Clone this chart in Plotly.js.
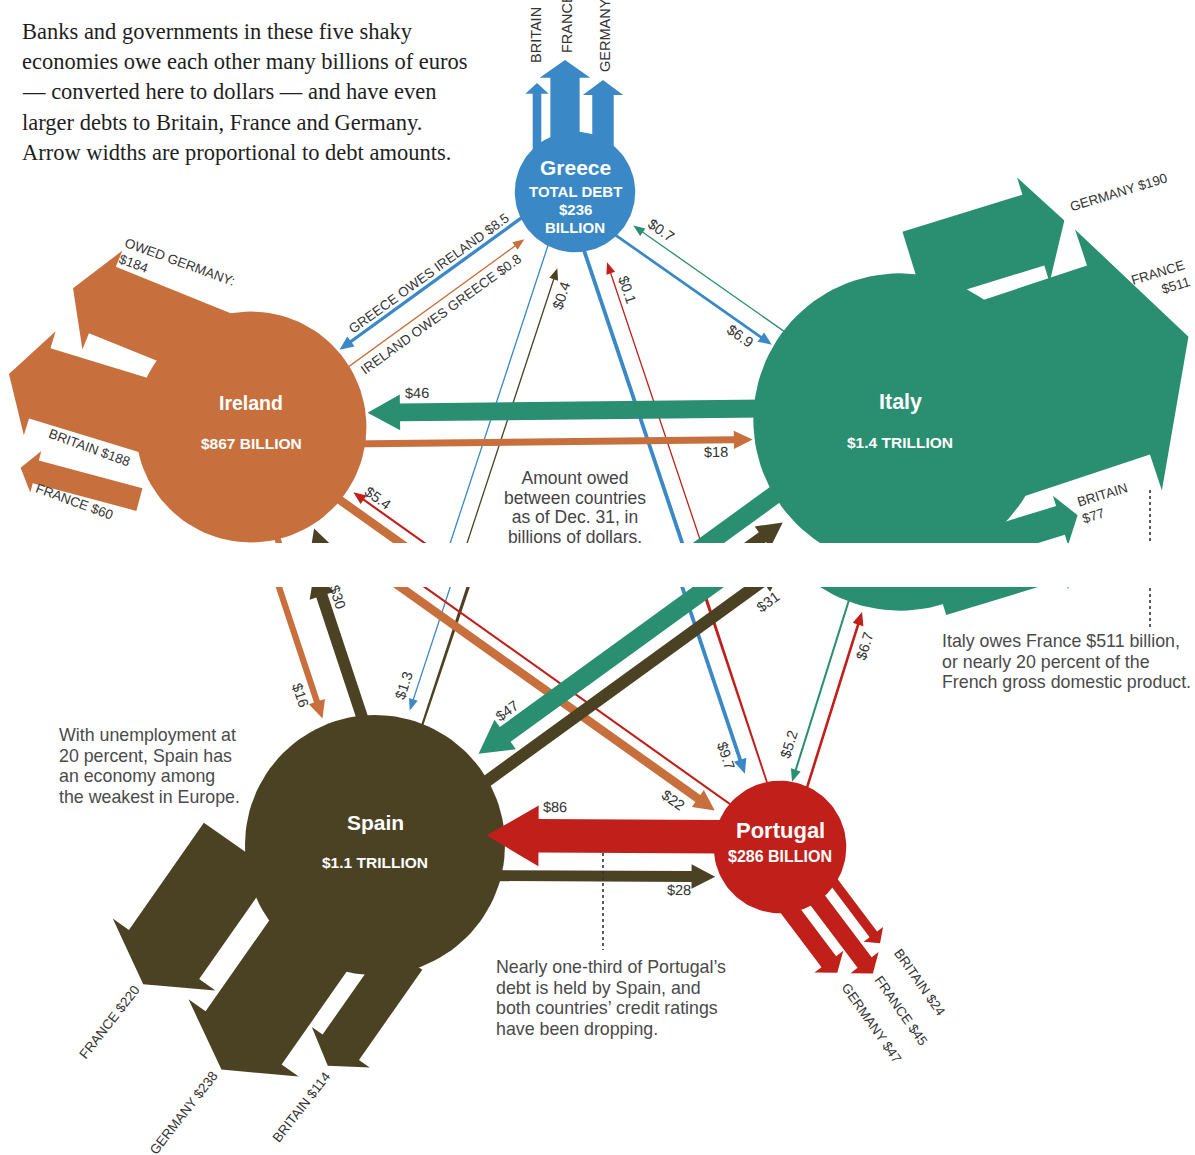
<!DOCTYPE html>
<html><head><meta charset="utf-8">
<script src="https://cdn.plot.ly/plotly-3.0.1.min.js"></script>
<style>html,body{margin:0;padding:0;background:#fff;}#chart{width:1195px;height:1155px;}</style>
</head><body><div id="chart"></div>
<script>
// ================= DATA (billions of dollars) =================
const countries = ["Greece", "Ireland", "Italy", "Spain", "Portugal"];
const totalDebt = [236, 867, 1400, 1100, 286];

// debts between the five countries: debtor owes creditor
const flowDebtor   = ["Greece","Ireland","Greece","Italy","Greece","Spain","Greece","Portugal","Italy","Ireland","Ireland","Spain","Ireland","Portugal","Italy","Spain","Italy","Portugal","Portugal","Spain"];
const flowCreditor = ["Ireland","Greece","Italy","Greece","Spain","Greece","Portugal","Greece","Ireland","Italy","Spain","Ireland","Portugal","Ireland","Spain","Italy","Portugal","Italy","Spain","Portugal"];
const flowAmount   = [8.5, 0.8, 6.9, 0.7, 1.3, 0.4, 9.7, 0.1, 46, 18, 16, 30, 22, 5.4, 47, 31, 5.2, 6.7, 86, 28];

// debts to Britain, France and Germany (Greece's values)
const extDebtor   = ["Greece","Greece","Greece","Ireland","Ireland","Ireland","Italy","Italy","Italy","Spain","Spain","Spain","Portugal","Portugal","Portugal"];
const extCreditor = ["Britain","France","Germany","Germany","Britain","France","Germany","France","Britain","France","Germany","Britain","Germany","France","Britain"];
const extAmount   = [22, 75, 55, 184, 188, 60, 190, 511, 77, 220, 238, 114, 47, 45, 24];

// ================= LAYOUT / STYLE =================
const W = 1195, H = 1155, CUT = 543, SHIFT = 44;
const SCALE = 0.39, RADIUS_K = 3.92;
const nodeCenter = {Greece:[575,192], Ireland:[251,427], Italy:[900,420], Spain:[375,801], Portugal:[780,803]};
const nodeColor  = {Greece:"#3a88c6", Ireland:"#c8703d", Italy:"#2a8f71", Spain:"#4b4224", Portugal:"#c11f1a"};
const nodeNameDy = {Greece:-25, Ireland:-24, Italy:-18, Spain:-23, Portugal:-17};
const nodeNameSize = {Greece:21, Ireland:19.5, Italy:21.5, Spain:21, Portugal:22};
const nodeAmtDy  = {Greece:[-1,17,35], Ireland:[16], Italy:[22], Spain:[17], Portugal:[9]};
const nodeAmtSize = {Greece:15, Ireland:15.5, Italy:15.5, Spain:15.5, Portugal:16};

const flowOffset    = [10.5, 8.5, 12, 6, 9, 7, 10, 8, 13, 18, 10, 28, 8, 6, 13, 14, 8, 8, 10, 30];
const flowGap       = [2, 9, 2, 7, 9, 18, 15, 17, 2, 2, 7, 4, 8.5, 6, 8, 9, 0, 6, -18, 5];
const flowLabelBack = [117, 112, 31, 25, 22, 25, 23, 32, 50, 37, 29, 31, 40, 23, 48, 33, 35, 32, 68, 36];
const flowLabelPerp = [9, 12, 11, 12, 13, 12, 12, 10, 19, 12, 14, 14, 16, 10, 18, 20, 14, 13, 29, 13];
const flowLabelLong = [true, true, false, false, false, false, false, false, false, false, false, false, false, false, false, false, false, false, false, false];

const extAngle  = [-90, -90, -90, -158, -163, -165, -17.2, -18.4, -17, 125, 125, 125, 53, 53, 53];
const extOffset = [-38, -10, 28, 62, -20, -99, -142, 12, 143, 110, -3, -88, 30, 2, -22];
const extLength = [109, 132, 112, 217, 247, 212, 216, 300, 142, 247, 272, 208, 135, 157, 137];
const extTail   = [0, 0, 0, 0, 0, 89, 58, 0, 0, 80, 0, 75, 0, 0, 0];
const extLabelX = [536, 567, 605, 177, 89, 74, 1118, 1160, 1105, 109, 183, 301, 872, 901, 920];
const extLabelY = [65, 55, 74, 270, 447, 501, 192, 281, 503, 1022, 1113, 1107, 1023, 1010, 982];
const extLabelAngle = [-90, -90, -90, 20, 20, 20, -17, -17, -17, -52, -52, -52, 55, 55, 55];
const extLabelStyle = ["up","up","up","owed","one","one","one","twoR","twoL","one","one","one","one","one","one"];

const SANS = "Liberation Sans, Arial, sans-serif";
const SERIF = "Liberation Serif, Times New Roman, serif";

// ================= HELPERS =================
const traces = [];
const annotations = [];
function dispY(y){ return y > CUT ? y + SHIFT : y; }
function addPoly(pts, color){
  const xs = pts.map(p => p[0]); xs.push(pts[0][0]);
  const ys = pts.map(p => p[1]); ys.push(pts[0][1]);
  ["y","y2"].forEach(ya => traces.push({type:"scatter", mode:"lines", x:xs, y:ys, xaxis:"x", yaxis:ya,
    fill:"toself", fillcolor:color, line:{width:0, color:color}, hoverinfo:"skip", showlegend:false}));
}
function arrowPts(tail, tip, w, headLen, barb){
  const dx = tip[0]-tail[0], dy = tip[1]-tail[1], L = Math.hypot(dx, dy);
  const ux = dx/L, uy = dy/L, nx = -uy, ny = ux;
  const hl = Math.min(headLen, L*0.95);
  const bx = tip[0]-ux*hl, by = tip[1]-uy*hl, h = w/2, hh = w/2 + barb;
  return [[tail[0]+nx*h, tail[1]+ny*h], [bx+nx*h, by+ny*h], [bx+nx*hh, by+ny*hh], tip,
          [bx-nx*hh, by-ny*hh], [bx-nx*h, by-ny*h], [tail[0]-nx*h, tail[1]-ny*h]];
}
function ann(x, yd, text, o){
  o = o || {};
  annotations.push({xref:"paper", yref:"paper", x:x/W, y:1-yd/H, text:text, showarrow:false,
    xanchor:o.xa || "center", yanchor:o.ya || "middle", align:o.align || "center",
    textangle:o.angle || 0,
    font:{family:o.family || SANS, size:o.size || 13, color:o.color || "#333"}});
}
function radius(name){ return RADIUS_K * Math.sqrt(totalDebt[countries.indexOf(name)]); }
function money(v){ return v >= 1000 ? "$" + (v/1000).toFixed(1) + " TRILLION" : "$" + v + " BILLION"; }

// ================= CIRCLES =================
countries.forEach((c) => {
  const [cx, cy] = nodeCenter[c], r = radius(c), pts = [];
  for (let k = 0; k < 120; k++){ const a = 2*Math.PI*k/120; pts.push([cx + r*Math.cos(a), cy + r*Math.sin(a)]); }
  addPoly(pts, nodeColor[c]);
});

// ================= EXTERNAL DEBT ARROWS =================
const EXT_SIZE = 13.4, UP_SIZE = 14.5;
extAmount.forEach((v, i) => {
  const [cx, cy] = nodeCenter[extDebtor[i]];
  const a = extAngle[i]*Math.PI/180, d = [Math.cos(a), Math.sin(a)], n = [-d[1], d[0]];
  const bx = cx + n[0]*extOffset[i], by = cy + n[1]*extOffset[i];
  const tail = [bx + d[0]*extTail[i], by + d[1]*extTail[i]];
  const tip = [bx + d[0]*extLength[i], by + d[1]*extLength[i]];
  const w = v*SCALE;
  addPoly(arrowPts(tail, tip, w, 0.33*w + 8, 0.16*w + 6), nodeColor[extDebtor[i]]);
  const name = extCreditor[i].toUpperCase();
  const st = extLabelStyle[i];
  if (st === "up") ann(extLabelX[i], extLabelY[i], name, {angle:-90, ya:"bottom", size:UP_SIZE});
  else if (st === "owed") ann(extLabelX[i], extLabelY[i], "OWED " + name + ":<br>$" + v, {angle:extLabelAngle[i], align:"left", size:EXT_SIZE});
  else if (st === "twoR") ann(extLabelX[i], extLabelY[i], name + "<br>$" + v, {angle:extLabelAngle[i], align:"right", size:EXT_SIZE});
  else if (st === "twoL") ann(extLabelX[i], extLabelY[i], name + "<br>$" + v, {angle:extLabelAngle[i], align:"left", size:EXT_SIZE});
  else ann(extLabelX[i], extLabelY[i], name + " $" + v, {angle:extLabelAngle[i], size:EXT_SIZE});
});

// ================= DEBTS BETWEEN THE FIVE =================
flowAmount.forEach((v, i) => {
  const A = nodeCenter[flowDebtor[i]], B = nodeCenter[flowCreditor[i]];
  const L = Math.hypot(B[0]-A[0], B[1]-A[1]);
  const u = [(B[0]-A[0])/L, (B[1]-A[1])/L], n = [-u[1], u[0]];
  const S = [A[0] + n[0]*flowOffset[i], A[1] + n[1]*flowOffset[i]];
  const R = radius(flowCreditor[i]) + flowGap[i];
  const c = [S[0]-B[0], S[1]-B[1]], cu = c[0]*u[0] + c[1]*u[1];
  const disc = cu*cu - (c[0]*c[0] + c[1]*c[1]) + R*R;
  const t = -cu - Math.sqrt(Math.max(disc, 0));
  const P = [S[0] + u[0]*t, S[1] + u[1]*t];
  const w = Math.max(1.3, v*SCALE);
  addPoly(arrowPts(S, P, w, 10 + 1.25*w, 3.5 + 0.3*w), nodeColor[flowDebtor[i]]);
  const lx = P[0] - u[0]*flowLabelBack[i] + n[0]*flowLabelPerp[i];
  const ly = P[1] - u[1]*flowLabelBack[i] + n[1]*flowLabelPerp[i];
  let ang = Math.atan2(u[1], u[0])*180/Math.PI;
  if (ang > 90) ang -= 180; if (ang <= -90) ang += 180;
  const txt = flowLabelLong[i] ? flowDebtor[i].toUpperCase() + " OWES " + flowCreditor[i].toUpperCase() + " $" + v : "$" + v;
  ann(lx, dispY(ly), txt, {angle:ang, size: flowLabelLong[i] ? 13.5 : 14.5});
});

// ================= NODE LABELS =================
countries.forEach((c, i) => {
  const [cx, cy] = nodeCenter[c];
  ann(cx, dispY(cy) + nodeNameDy[c], "<b>" + c + "</b>", {size:nodeNameSize[c], color:"#fff"});
  const dys = nodeAmtDy[c];
  const lines = dys.length === 3 ? ["TOTAL DEBT", "$" + totalDebt[i], "BILLION"] : [money(totalDebt[i])];
  lines.forEach((t, k) => ann(cx, dispY(cy) + dys[k], "<b>" + t + "</b>", {size:nodeAmtSize[c], color:"#fff"}));
});

// ================= TEXT NOTES =================
const intro = ["Banks and governments in these five shaky", "economies owe each other many billions of euros",
  "\u2014 converted here to dollars \u2014 and have even", "larger debts to Britain, France and Germany.",
  "Arrow widths are proportional to debt amounts."];
intro.forEach((t, k) => ann(20, 32 + 30*k, t, {xa:"left", family:SERIF, size:22.5, color:"#1e1e1e"}));

const NOTE = 17.8;
const spainNote = ["With unemployment at", "20 percent, Spain has", "an economy among", "the weakest in Europe."];
spainNote.forEach((t, k) => ann(57, 735 + 20.5*k, t, {xa:"left", size:NOTE, color:"#4a4a4a"}));
const portNote = ["Nearly one-third of Portugal\u2019s", "debt is held by Spain, and", "both countries\u2019 credit ratings", "have been dropping."];
portNote.forEach((t, k) => ann(494, 967 + 20.5*k, t, {xa:"left", size:NOTE, color:"#4a4a4a"}));
const italyNote = ["Italy owes France $511 billion,", "or nearly 20 percent of the", "French gross domestic product."];
italyNote.forEach((t, k) => ann(940, 641 + 20.5*k, t, {xa:"left", size:NOTE, color:"#4a4a4a"}));

// key text (clipped at the seam like the reference)
const keyLines = ["Amount owed", "between countries", "as of Dec. 31, in", "billions of dollars."];
["y","y2"].forEach(ya => traces.push({type:"scatter", mode:"text", x:keyLines.map(() => 575),
  y:keyLines.map((t, k) => 480 + 19.5*k), text:keyLines, textposition:"middle center", cliponaxis:true,
  textfont:{family:SANS, size:17.5, color:"#444"}, xaxis:"x", yaxis:ya, hoverinfo:"skip", showlegend:false}));

// dotted leader lines
const leaders = [[[1150,490],[1150,586]], [[603,809],[603,906]]];
leaders.forEach(seg => ["y","y2"].forEach(ya => traces.push({type:"scatter", mode:"lines",
  x:[seg[0][0], seg[1][0]], y:[seg[0][1], seg[1][1]], xaxis:"x", yaxis:ya,
  line:{color:"#333", width:1.6, dash:"dot"}, hoverinfo:"skip", showlegend:false})));

const layout = {
  width:W, height:H, margin:{l:0, r:0, t:0, b:0, pad:0},
  paper_bgcolor:"#fff", plot_bgcolor:"#fff", showlegend:false, hovermode:false,
  xaxis:{range:[0, W], visible:false, fixedrange:true, domain:[0,1]},
  yaxis:{range:[CUT, 0], visible:false, fixedrange:true, domain:[1 - CUT/H, 1], anchor:"x"},
  yaxis2:{range:[H - SHIFT, CUT], visible:false, fixedrange:true, domain:[0, 1 - (CUT + SHIFT)/H], anchor:"x"},
  annotations:annotations
};
Plotly.newPlot("chart", traces, layout, {displayModeBar:false, staticPlot:true});
</script>
</body></html>
